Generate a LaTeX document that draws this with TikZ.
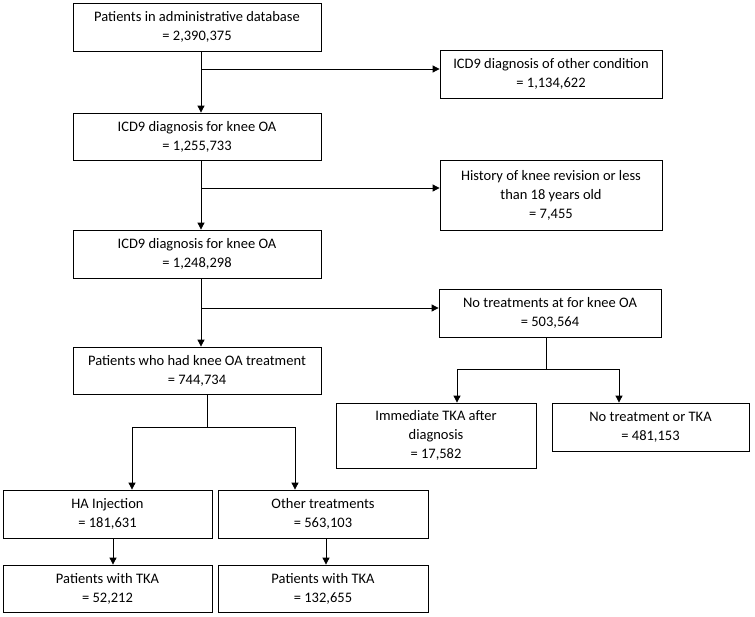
\documentclass[tikz,border=0pt]{standalone}
\usepackage{fontspec}
\setmainfont{Carlito}
\usetikzlibrary{arrows.meta}
\begin{document}
\begin{tikzpicture}[x=1pt,y=-1pt,
  box/.style={draw, line width=0.8pt, rectangle, align=center, inner sep=0pt,
    font=\fontsize{14.5}{19}\selectfont},
  arr/.style={line width=0.8pt, -{Triangle[width=7pt,length=7pt]}},
  ln/.style={line width=0.8pt}]
\useasboundingbox (0,0) rectangle (755,616);
\node[box, minimum width=248pt, minimum height=48pt] (b1) at (197,27) {Patients in administrative database\\= 2,390,375};
\node[box, minimum width=222pt, minimum height=48pt] (b2) at (551,74) {ICD9 diagnosis of other condition\\= 1,134,622};
\node[box, minimum width=248pt, minimum height=47pt] (bB) at (197,136.5) {ICD9 diagnosis for knee OA\\= 1,255,733};
\node[box, minimum width=222pt, minimum height=70pt] (bH) at (551,195) {History of knee revision or less\\than 18 years old\\= 7,455};
\node[box, minimum width=248pt, minimum height=48pt] (bC) at (197,254) {ICD9 diagnosis for knee OA\\= 1,248,298};
\node[box, minimum width=222pt, minimum height=48pt] (bN) at (550,313) {No treatments at for knee OA\\= 503,564};
\node[box, minimum width=248pt, minimum height=47pt] (bD) at (197,370.5) {Patients who had knee OA treatment\\= 744,734};
\node[box, minimum width=200pt, minimum height=65pt] (bI) at (436,435.5) {Immediate TKA after\\diagnosis\\= 17,582};
\node[box, minimum width=197pt, minimum height=48pt] (bT) at (650.5,427) {No treatment or TKA\\= 481,153};
\node[box, minimum width=209pt, minimum height=48pt] (bHA) at (107.5,514) {HA Injection\\= 181,631};
\node[box, minimum width=210pt, minimum height=48pt] (bO) at (323,514) {Other treatments\\= 563,103};
\node[box, minimum width=209pt, minimum height=47pt] (bK1) at (107.5,588.5) {Patients with TKA\\= 52,212};
\node[box, minimum width=210pt, minimum height=47pt] (bK2) at (323,588.5) {Patients with TKA\\= 132,655};
% entry points of side boxes
\coordinate (e2) at ([yshift=5pt]b2.west);
\coordinate (eH) at ([yshift=7pt]bH.west);
\coordinate (eN) at ([yshift=5pt]bN.west);
% main spine
\draw[arr] ([xshift=4pt]b1.south) -- ([xshift=4pt]bB.north);
\draw[arr] ([xshift=4pt]bB.south) -- ([xshift=4pt]bC.north);
\draw[arr] ([xshift=4pt]bC.south) -- ([xshift=4pt]bD.north);
% side branches
\draw[arr] ([xshift=4pt]b1.south |- e2) -- (e2);
\draw[arr] ([xshift=4pt]bB.south |- eH) -- (eH);
\draw[arr] ([xshift=4pt]bC.south |- eN) -- (eN);
% split from D
\coordinate (dj) at ([xshift=10pt,yshift=-33pt]bD.south);
\coordinate (ha) at ([xshift=24.5pt]bHA.north);
\coordinate (ot) at ([xshift=-28pt]bO.north);
\draw[ln] ([xshift=10pt]bD.south) -- (dj);
\draw[ln] (ha |- dj) -- (ot |- dj);
\draw[arr] (ha |- dj) -- (ha);
\draw[arr] (ot |- dj) -- (ot);
\draw[arr] ([xshift=5.5pt]bHA.south) -- ([xshift=5.5pt]bK1.north);
\draw[arr] ([xshift=3pt]bO.south) -- ([xshift=3pt]bK2.north);
% split from N
\coordinate (nj) at ([xshift=-4pt,yshift=-32pt]bN.south);
\coordinate (im) at ([xshift=21pt]bI.north);
\coordinate (nt) at ([xshift=-31.5pt]bT.north);
\draw[ln] ([xshift=-4pt]bN.south) -- (nj);
\draw[ln] (im |- nj) -- (nt |- nj);
\draw[arr] (im |- nj) -- (im);
\draw[arr] (nt |- nj) -- (nt);
\end{tikzpicture}
\end{document}
